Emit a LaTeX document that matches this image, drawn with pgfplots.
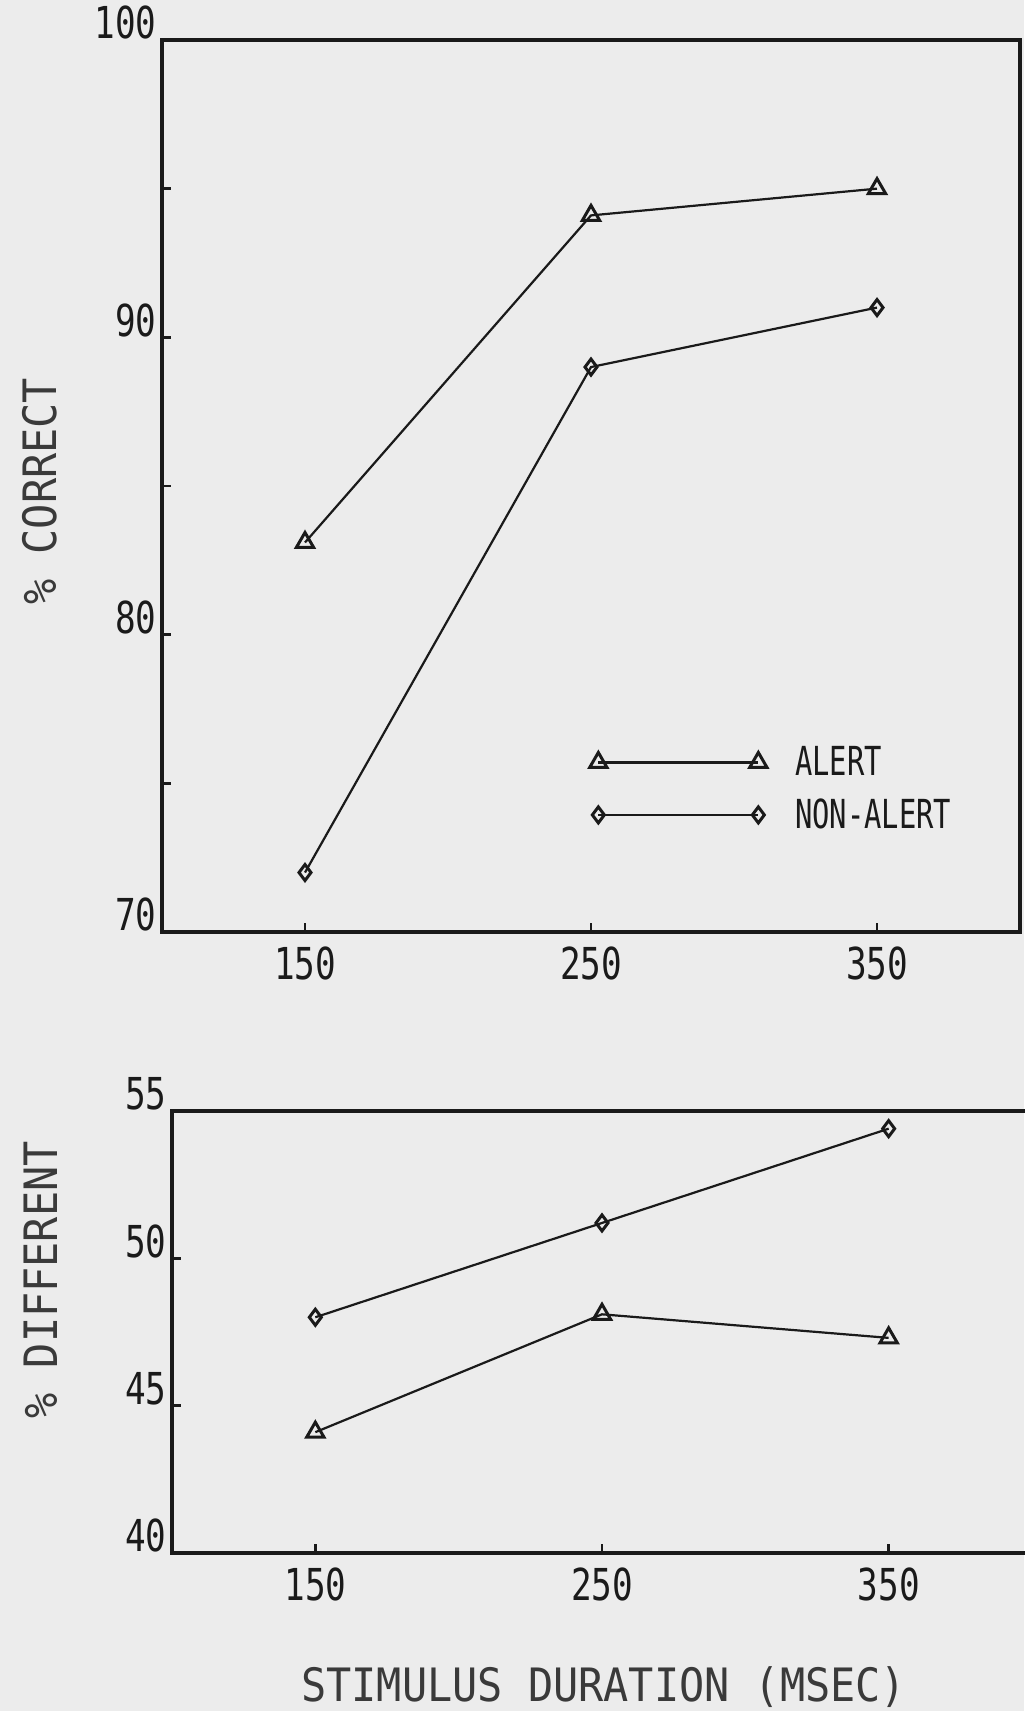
\documentclass[border=0pt]{standalone}
\usepackage{pgfplots}
\pgfplotsset{compat=1.18}
\usepackage{fontspec}
\setmainfont{DejaVu Sans Mono}
\newfontfamily\labelfont{DejaVu Sans Mono}[FakeStretch=0.91]
\newfontfamily\tickfont{DejaVu Sans Mono}[FakeStretch=0.78]
\newfontfamily\legfont{DejaVu Sans Mono}[FakeStretch=0.72]
\definecolor{paper}{HTML}{ECECEC}
\definecolor{ink}{HTML}{1A1A1A}
\definecolor{labelink}{HTML}{3A3A3A}

\pgfplotsset{
  common/.style={
    scale only axis,
    xmin=100, xmax=400,
    xtick={150,250,350},
    xticklabels={150,250,350},
    axis line style={ink, line width=1.7pt},
    tick style={ink, line width=1.3pt},
    major tick length=4.5pt,
    minor tick length=4.5pt,
    tick align=inside,
    tick pos=left,
    xticklabel style={font=\tickfont\fontsize{22}{22}\selectfont, text=ink, anchor=north, inner sep=0pt, yshift=-7pt},
    yticklabel style={font=\tickfont\fontsize{22}{22}\selectfont, text=ink, anchor=south east, inner sep=0pt, xshift=-2.5pt},
    label style={font=\labelfont\fontsize{23}{23}\selectfont, text=labelink},
    every axis plot/.append style={ink, line width=1.1pt, mark options={solid, line width=1.5pt}},
    legend image code/.code={\draw[#1] plot coordinates {(0pt,0pt) (80pt,0pt)};},
  },
  alert/.style={mark=triangle, mark size=5pt},
  nonalert/.style={mark=diamond, mark size=4pt},
}

\begin{document}
\begin{tikzpicture}
\path[use as bounding box, fill=paper] (0,0) rectangle (512pt,855.5pt);

% top panel: % correct
\begin{axis}[common,
  at={(81pt,389.5pt)}, anchor=south west,
  width=429pt, height=446pt,
  ymin=70, ymax=100,
  ytick={70,80,90,100},
  yticklabels={70,80,90,100},
  minor ytick={75,85,95},
  ylabel={\% CORRECT},
  ylabel style={at={(axis description cs:-0.142,0.494)}, anchor=center},
  legend style={draw=none, fill=none, at={(axis description cs:0.498,0.213)}, anchor=north west,
    font=\legfont\fontsize{20}{20}\selectfont, text=ink, row sep=6pt, inner sep=0pt,
    /tikz/every odd column/.append style={column sep=12pt}},
  legend cell align=left,
]
\addplot[alert] coordinates {(150,83.1) (250,94.1) (350,95.0)};
\addlegendentry{ALERT}
\addplot[nonalert] coordinates {(150,72.0) (250,89.0) (350,91.0)};
\addlegendentry{NON-ALERT}
\end{axis}

% bottom panel: % different
\begin{axis}[common,
  at={(86pt,79pt)}, anchor=south west,
  width=430pt, height=221pt,
  ymin=40, ymax=55,
  ytick={40,45,50,55},
  yticklabels={40,45,50,55},
  ylabel={\% DIFFERENT},
  ylabel style={at={(axis description cs:-0.153,0.618)}, anchor=center},
  xlabel={STIMULUS DURATION (MSEC)},
  xlabel style={at={(axis description cs:0.502,-0.303)}, anchor=center},
]
\addplot[nonalert] coordinates {(150,48.0) (250,51.2) (350,54.4)};
\addplot[alert] coordinates {(150,44.1) (250,48.1) (350,47.3)};
\end{axis}
\end{tikzpicture}
\end{document}
